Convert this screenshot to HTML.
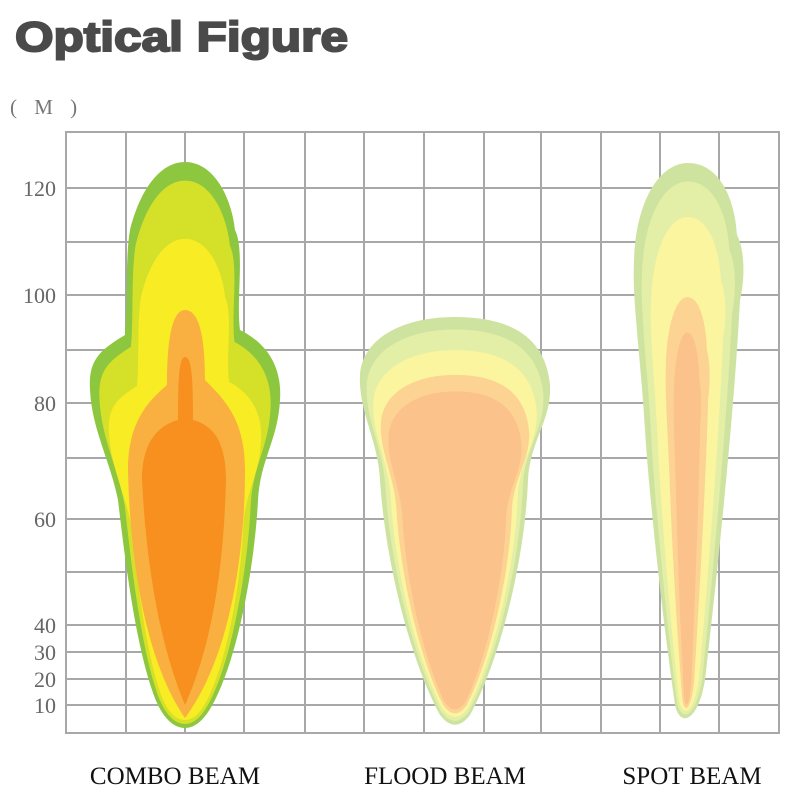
<!DOCTYPE html>
<html><head><meta charset="utf-8"><style>
body{margin:0;background:#fff}
svg{display:block}
</style></head><body>
<svg width="800" height="800" viewBox="0 0 800 800" xmlns="http://www.w3.org/2000/svg">
<text x="15" y="51" font-family="Liberation Sans, sans-serif" font-weight="bold" font-size="42" fill="#4a4a4a" stroke="#4a4a4a" stroke-width="2" textLength="333" lengthAdjust="spacingAndGlyphs">Optical Figure</text>
<text x="10" y="114" font-family="Liberation Serif, serif" font-size="21" fill="#777" letter-spacing="6">( M )</text>
<g stroke="#a8a8a8" stroke-width="2" fill="none">
<rect x="66" y="132" width="713" height="601"/>
<path d="M126 132V733M185 132V733M244 132V733M305 132V733M364 132V733M424 132V733M484 132V733M541 132V733M601 132V733M660 132V733M719 132V733"/>
<path d="M66 188H779M66 242H779M66 295H779M66 350H779M66 403H779M66 458H779M66 519H779M66 572H779M66 625H779M66 652H779M66 679H779M66 705H779"/>
</g>
<g font-family="Liberation Serif, serif" font-size="22" fill="#666" text-anchor="end">
<text x="56" y="196">120</text><text x="56" y="303">100</text><text x="56" y="411">80</text>
<text x="56" y="527">60</text><text x="56" y="633">40</text><text x="56" y="660">30</text>
<text x="56" y="687">20</text><text x="56" y="713">10</text>
</g>
<defs>
<path id="c" d="M185,162 C215,162 232,200 235,230 C245,250 236,300 240,330 C270,345 282,370 280,400 C278,440 260,460 258,500 C255,560 240,650 215,700 C205,720 195,728 185,728 C172,728 160,715 152,690 C135,640 125,560 118,500 C110,460 92,430 90,390 C88,360 100,350 125,335 C128,300 125,260 130,230 C140,190 160,162 185,162Z"/>
<path id="f" d="M455,317 C500,317 545,330 550,385 C552,420 530,440 528,480 C525,560 500,660 470,715 C460,728 450,728 440,715 C410,660 385,560 380,480 C378,440 358,410 360,375 C362,340 400,317 455,317Z"/>
<path id="s" d="M688,163 C720,163 735,200 737,235 C745,250 745,280 740,300 C735,400 720,550 705,680 C698,722 680,728 675,705 C660,600 648,480 645,430 C640,350 632,300 634,260 C636,200 660,163 688,163Z"/>
</defs>
<use href="#c" fill="#8dc63f"/>
<use href="#c" fill="#d5e028" transform="translate(185 724) scale(0.9 0.96) translate(-185 -728)"/>
<use href="#c" fill="#f8ec25" transform="translate(185 720) scale(0.8 0.85) translate(-185 -728)"/>
<path fill="#f9b040" d="M185,310 C200,310 205,340 205,380 C225,400 245,420 245,470 C245,560 228,660 185,718 C145,660 130,560 128,470 C128,420 150,400 167,385 C167,340 172,310 185,310Z"/>
<path fill="#f7901e" d="M185,357 C192,357 193,380 193,420 C212,425 226,440 226,480 C224,560 214,640 185,705 C158,640 146,560 142,480 C142,440 160,425 178,420 C178,380 179,357 185,357Z"/>
<use href="#f" fill="#cfe3a0"/>
<use href="#f" fill="#e3eea6" transform="translate(455 724) scale(0.93 0.96) translate(-455 -728)"/>
<use href="#f" fill="#fbf5a0" transform="translate(455 720) scale(0.86 0.9) translate(-455 -728)"/>
<use href="#f" fill="#fcd393" transform="translate(455 716) scale(0.78 0.83) translate(-455 -728)"/>
<use href="#f" fill="#fbc28c" transform="translate(455 712) scale(0.7 0.78) translate(-455 -728)"/>
<use href="#s" fill="#cfe3a0"/>
<use href="#s" fill="#e3eea6" transform="translate(687 721) scale(0.85 0.96) translate(-687 -725)"/>
<use href="#s" fill="#fbf5a0" transform="translate(687 717) scale(0.68 0.89) translate(-687 -725)"/>
<use href="#s" fill="#fcd393" transform="translate(687 713) scale(0.4 0.74) translate(-687 -725)"/>
<use href="#s" fill="#fbc28c" transform="translate(687 709) scale(0.25 0.67) translate(-687 -725)"/>
<g font-family="Liberation Serif, serif" font-size="25" fill="#111" text-anchor="middle">
<text x="175" y="784">COMBO BEAM</text><text x="445" y="784">FLOOD BEAM</text><text x="692" y="784">SPOT BEAM</text>
</g>
</svg>
</body></html>
